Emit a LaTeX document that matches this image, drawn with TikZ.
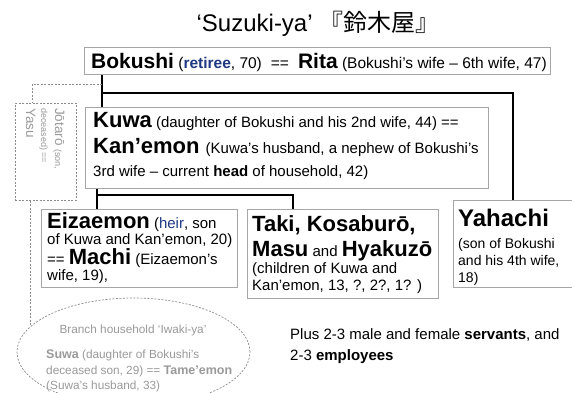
\documentclass[tikz,border=0pt]{standalone}
\usepackage{fontspec}
\setmainfont{Liberation Sans}
\newfontfamily\cjkfont{Noto Sans CJK JP}
\usetikzlibrary{shapes.geometric}
\definecolor{boxgray}{HTML}{A6A6A6}
\definecolor{dashgray}{HTML}{8C8C8C}
\definecolor{tgray}{HTML}{9A9A9A}
\definecolor{navy}{RGB}{31,56,130}
\newcommand\setsz[1]{\fontsize{#1pt}{#1pt}\selectfont}
\newcommand\bigname[1]{{\setsz{22}\bfseries #1}}
\begin{document}
\begin{tikzpicture}[x=1pt,y=-1pt,
  box/.style={draw=boxgray, line width=0.8pt, fill=white, inner sep=0pt, anchor=north west},
  dbox/.style={draw=dashgray, dashed, dash pattern=on 2pt off 1.5pt, line width=0.7pt, inner sep=0pt, anchor=north west},
  txt/.style={anchor=base west, inner sep=0pt, font=\setsz{15}},
  gtxt/.style={anchor=base west, inner sep=0pt, text=tgray},
  conn/.style={draw=black, line width=1.3pt},
  dline/.style={draw=dashgray, dashed, dash pattern=on 2pt off 1.5pt, line width=0.7pt}
]
\useasboundingbox (0,0) rectangle (572,392);
\clip (0,0) rectangle (572,392);
\fill[white] (0,0) rectangle (572,392);

% title
\node[anchor=base, inner sep=0pt, font=\setsz{24}] (title) at (318,31) {‘Suzuki-ya’ {\cjkfont 『鈴木屋』}};

% boxes
\node[box, minimum width=466pt, minimum height=27pt] (bok) at (84,47) {};
\node[box, minimum width=403pt, minimum height=81pt] (kuwa) at (85,107) {};
\node[box, minimum width=196pt, minimum height=78pt] (eiz) at (41,209) {};
\node[box, minimum width=191pt, minimum height=89pt] (taki) at (247,209) {};
\node[box, minimum width=126pt, minimum height=87pt] (yah) at (453,200) {};
\node[dbox, minimum width=61pt, minimum height=97pt] (jot) at (15,103) {};
\node[ellipse, draw=dashgray, dashed, dash pattern=on 2pt off 1.5pt, line width=0.7pt, minimum width=233pt, minimum height=108pt, inner sep=0pt] (ell) at (133.5,352) {};

% connectors
\coordinate (j1) at (102,93);
\coordinate (yx) at (513,93);
\draw[conn] (bok.south -| j1) -- (kuwa.north -| j1);
\draw[conn] (j1) -- (yx) -- (yx |- yah.north);
\coordinate (j2) at (97,195);
\coordinate (j3) at (293,195);
\draw[conn] (kuwa.south -| j2) -- (eiz.north -| j2);
\draw[conn] (j2) -- (j3) -- (taki.north -| j3);
\coordinate (d1) at (32,84);
\draw[dline] (j1 |- d1) -- (d1) -- (d1 |- jot.north);
\coordinate (d2) at (30,250);
\draw[dline] (jot.south -| d2) -- (d2 |- ell.166);

% Bokushi
\node[txt, font=\setsz{15.5}] (bokt) at (91,68) {{\setsz{21}\bfseries Bokushi} (\textbf{\textcolor{navy}{retiree}}, 70)\hspace{9pt}==\hspace{9pt}{\setsz{21}\bfseries Rita} (Bokushi’s wife – 6th wife, 47)};

% Kuwa
\node[txt] (kuwa1) at (93,127) {\bigname{Kuwa} (daughter of Bokushi and his 2nd wife, 44) ==};
\node[txt] (kuwa2) at (93,153) {\bigname{Kan’emon}\hspace{2pt} (Kuwa’s husband, a nephew of Bokushi’s};
\node[txt] (kuwa3) at (93,176) {3rd wife – current \textbf{head} of household, 42)};

% Eizaemon
\node[txt] (eiz1) at (47,228) {\bigname{Eizaemon} (\textcolor{navy}{heir}, son};
\node[txt] (eiz2) at (47,244.5) {of Kuwa and Kan’emon, 20)};
\node[txt] (eiz3) at (47,264) {== \bigname{Machi} (Eizaemon’s};
\node[txt] (eiz4) at (47,280) {wife, 19),};

% Taki
\node[txt] (taki1) at (252,231) {\bigname{Taki, Kosaburō,}};
\node[txt] (taki2) at (252,256) {\bigname{Masu} and \bigname{Hyakuzō}};
\node[txt] (taki3) at (252,273) {(children of Kuwa and};
\node[txt] (taki4) at (252,290) {Kan’emon, 13, ?, 2?, 1? )};

% Yahachi
\node[txt] (yah1) at (458,226) {{\setsz{24}\bfseries Yahachi}};
\node[txt, font=\setsz{14}] (yah2) at (458,248) {(son of Bokushi};
\node[txt, font=\setsz{14}] (yah3) at (458,265) {and his 4th wife,};
\node[txt, font=\setsz{14}] (yah4) at (458,282) {18)};

% Jotaro (rotated)
\node[gtxt, rotate=-90, font=\setsz{13.5}] (jot1) at (55,108) {Jōtarō {\setsz{9}(son,}};
\node[gtxt, rotate=-90, font=\setsz{9}] (jot2) at (41,108) {deceased) ==};
\node[gtxt, rotate=-90, font=\setsz{13.5}] (jot3) at (26,108) {Yasu};

% branch household
\node[gtxt, anchor=base, font=\setsz{11.8}] (br) at (133,333) {Branch household ‘Iwaki-ya’};
\node[gtxt, font=\setsz{11.8}] (suwa1) at (46,358) {{\setsz{12.5}\bfseries Suwa} (daughter of Bokushi’s};
\node[gtxt, font=\setsz{11.8}] (suwa2) at (46,374) {deceased son, 29) == {\setsz{12.5}\bfseries Tame’emon}};
\node[gtxt, font=\setsz{11.8}] (suwa3) at (46,389) {(Suwa’s husband, 33)};

% servants
\node[txt] (plus1) at (290,339) {Plus 2-3 male and female \textbf{servants}, and};
\node[txt] (plus2) at (290,360) {2-3 \textbf{employees}};
\end{tikzpicture}
\end{document}
